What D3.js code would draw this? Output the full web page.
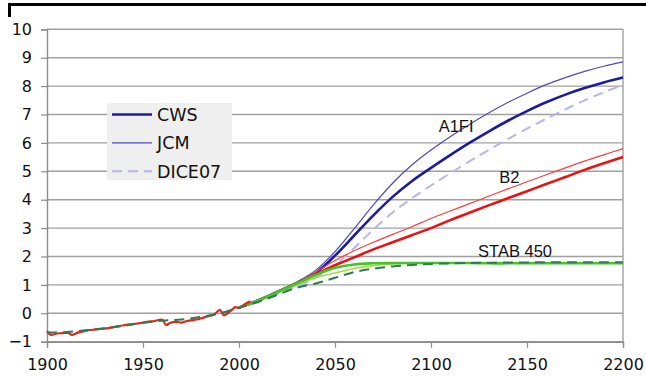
<!DOCTYPE html>
<html>
<head>
<meta charset="utf-8">
<script src="https://cdn.jsdelivr.net/npm/d3@7"></script>
<style>
  html, body { margin: 0; padding: 0; background: #fff; overflow: hidden; }
  svg { display: block; }
</style>
</head>
<body>
<svg id="chart" width="646" height="378"></svg>
<script>
// Axis ticks
const yearTicks = [1900, 1950, 2000, 2050, 2100, 2150, 2200];
const valueTicks = [-1, 0, 1, 2, 3, 4, 5, 6, 7, 8, 9, 10];

// Observed record, 1900-2006 (°C)
const obsYears = [1900, 1902, 1905, 1908, 1911, 1913, 1916, 1920, 1924, 1928, 1932, 1936, 1940, 1944, 1948, 1952, 1956, 1960, 1962, 1964, 1967, 1970, 1972, 1975, 1978, 1981, 1984, 1987, 1990, 1992, 1994, 1996, 1998, 2000, 2003, 2006];
const obsValues = [-0.63, -0.76, -0.71, -0.7, -0.69, -0.76, -0.68, -0.62, -0.58, -0.55, -0.52, -0.47, -0.42, -0.38, -0.35, -0.3, -0.27, -0.23, -0.41, -0.34, -0.3, -0.33, -0.29, -0.25, -0.22, -0.16, -0.1, -0.04, 0.12, -0.07, 0.0, 0.1, 0.22, 0.18, 0.32, 0.42];

// Modelled history shared by the runs, 1900-1990
const histYears = [1900, 1910, 1920, 1930, 1940, 1950, 1960, 1970, 1980, 1990];
const histValues = [-0.68, -0.66, -0.6, -0.53, -0.44, -0.34, -0.26, -0.22, -0.13, 0.0];

// Projection years, 2000-2200
const years = [2000, 2010, 2020, 2030, 2040, 2050, 2060, 2070, 2080, 2090, 2100, 2110, 2120, 2130, 2140, 2150, 2160, 2170, 2180, 2190, 2200];

// A1FI scenario
const a1fiDICE07 = [0.2, 0.42, 0.68, 0.95, 1.25, 1.7, 2.3, 2.95, 3.55, 4.05, 4.5, 4.93, 5.35, 5.75, 6.13, 6.5, 6.85, 7.18, 7.5, 7.78, 8.05];
const a1fiJCM    = [0.22, 0.48, 0.78, 1.1, 1.52, 2.17, 2.98, 3.82, 4.58, 5.22, 5.75, 6.22, 6.65, 7.05, 7.42, 7.75, 8.05, 8.3, 8.52, 8.7, 8.85];
const a1fiCWS    = [0.2, 0.45, 0.75, 1.05, 1.42, 2.03, 2.74, 3.45, 4.1, 4.65, 5.12, 5.57, 6.0, 6.4, 6.78, 7.12, 7.43, 7.7, 7.93, 8.13, 8.3];

// B2 scenario
const b2JCM = [0.22, 0.47, 0.77, 1.08, 1.45, 1.86, 2.2, 2.5, 2.78, 3.05, 3.34, 3.6, 3.86, 4.12, 4.38, 4.63, 4.88, 5.12, 5.36, 5.58, 5.8];
const b2CWS = [0.2, 0.45, 0.75, 1.05, 1.37, 1.69, 1.97, 2.25, 2.5, 2.75, 3.0, 3.28, 3.54, 3.8, 4.05, 4.3, 4.55, 4.8, 5.05, 5.28, 5.5];

// STAB 450 scenario
const stabJCM    = [0.2, 0.45, 0.72, 1.0, 1.25, 1.42, 1.58, 1.68, 1.74, 1.77, 1.78, 1.78, 1.78, 1.78, 1.78, 1.78, 1.78, 1.78, 1.78, 1.78, 1.78];
const stabCWS    = [0.2, 0.45, 0.75, 1.05, 1.35, 1.6, 1.72, 1.76, 1.77, 1.77, 1.77, 1.77, 1.77, 1.76, 1.76, 1.76, 1.76, 1.76, 1.76, 1.76, 1.76];
const stabDICE07 = [0.2, 0.4, 0.65, 0.9, 1.05, 1.25, 1.45, 1.57, 1.65, 1.7, 1.74, 1.76, 1.77, 1.78, 1.79, 1.79, 1.8, 1.8, 1.8, 1.8, 1.8];

// Legend entries
const legendNames = ["CWS", "JCM", "DICE07"];
const legendValues = [7, 6, 5];

// Curve annotations: label, year, value at baseline
const scenarioNames = ["A1FI", "B2", "STAB 450"];
const scenarioYears = [2104, 2135.5, 2124.5];
const scenarioValues = [6.39, 4.59, 1.99];

const svg = d3.select("#chart");
const x = d3.scaleLinear().domain([1900, 2200]).range([47, 623]);
const y = d3.scaleLinear().domain([-1, 10]).range([341.7, 29.3]);

const styles = {
  cws:   { width: 2.6, dash: null },
  jcm:   { width: 1.2, dash: null },
  dice:  { width: 2.0, dash: "10,6" }
};

// Page frame fragment at the top
svg.append("path")
  .attr("d", "M9.5,17 V4.5 H646")
  .attr("fill", "none")
  .attr("stroke", "#000")
  .attr("stroke-width", 3);

// Gridlines
svg.append("g").selectAll("line").data(valueTicks).join("line")
  .attr("x1", x(1900)).attr("x2", x(2200))
  .attr("y1", d => y(d)).attr("y2", d => y(d))
  .attr("stroke", "#a0a0a0").attr("stroke-width", 1.4);

// Plot frame right edge
svg.append("line")
  .attr("x1", x(2200)).attr("x2", x(2200))
  .attr("y1", y(10)).attr("y2", y(-1))
  .attr("stroke", "#a0a0a0").attr("stroke-width", 1.4);

// Axes
const xAxis = d3.axisBottom(x).tickValues(yearTicks).tickFormat(d3.format("d")).tickSize(6).tickPadding(11);
const yAxis = d3.axisLeft(y).tickValues(valueTicks).tickSize(6).tickPadding(9);

const gx = svg.append("g").attr("transform", `translate(0,${y(-1)})`).call(xAxis);
const gy = svg.append("g").attr("transform", `translate(${x(1900)},0)`).call(yAxis);
[gx, gy].forEach(g => {
  g.select(".domain").attr("stroke", "#8c8c8c").attr("stroke-width", 1.4);
  g.selectAll(".tick line").attr("stroke", "#8c8c8c").attr("stroke-width", 1.2);
  g.selectAll("text")
    .attr("fill", "#111")
    .style("font-family", "'DejaVu Sans', Verdana, sans-serif")
    .style("font-size", "16px");
});
gx.selectAll("text").attr("dy", "0.71em");

const line = d3.line()
  .x(d => x(d[0]))
  .y(d => y(d[1]))
  .curve(d3.curveCatmullRom.alpha(0.5));

function drawSeries(yrs, vals, color, style) {
  svg.append("path")
    .datum(yrs.map((yr, i) => [yr, vals[i]]))
    .attr("d", line)
    .attr("fill", "none")
    .attr("stroke", color)
    .attr("stroke-width", style.width)
    .attr("stroke-dasharray", style.dash)
    .attr("stroke-linejoin", "round")
    .attr("stroke-linecap", "butt");
}

// A1FI
drawSeries(years, a1fiDICE07, "#b6b6e6", styles.dice);
drawSeries(years, a1fiJCM, "#5048bc", styles.jcm);
drawSeries(years, a1fiCWS, "#1c1c9a", styles.cws);

// B2
drawSeries(years, b2JCM, "#ff3b3b", styles.jcm);
drawSeries(years, b2CWS, "#ee1010", styles.cws);

// STAB 450
drawSeries(years, stabJCM, "#a8d840", { width: 1.6, dash: null });
drawSeries(years, stabCWS, "#3cc828", styles.cws);

// Observed record
drawSeries(obsYears, obsValues, "#e8231a", { width: 2.2, dash: null });

// DICE07 STAB 450 including the modelled history
drawSeries(histYears.concat(years), histValues.concat(stabDICE07), "#2f7a52", styles.dice);

// Legend
const legend = svg.append("g");
legend.append("rect")
  .attr("x", 107).attr("y", 103).attr("width", 125).attr("height", 77)
  .attr("fill", "#efefef");

const legendStyles = [
  { color: "#1c1c9a", style: styles.cws },
  { color: "#5048bc", style: styles.jcm },
  { color: "#b6b6e6", style: styles.dice }
];
legendNames.forEach((name, i) => {
  const yy = y(legendValues[i]);
  legend.append("line")
    .attr("x1", 112).attr("x2", 152)
    .attr("y1", yy).attr("y2", yy)
    .attr("stroke", legendStyles[i].color)
    .attr("stroke-width", legendStyles[i].style.width)
    .attr("stroke-dasharray", legendStyles[i].style.dash);
  legend.append("text")
    .attr("x", 157).attr("y", yy)
    .attr("dy", "0.36em")
    .attr("fill", "#111")
    .style("font-family", "'DejaVu Sans', Verdana, sans-serif")
    .style("font-size", "17.5px")
    .text(name);
});

// Scenario annotations
scenarioNames.forEach((name, i) => {
  svg.append("text")
    .attr("x", x(scenarioYears[i]))
    .attr("y", y(scenarioValues[i]))
    .attr("fill", "#111")
    .style("font-family", "'Liberation Sans', Arial, sans-serif")
    .style("font-size", "16.5px")
    .text(name);
});
</script>
</body>
</html>
